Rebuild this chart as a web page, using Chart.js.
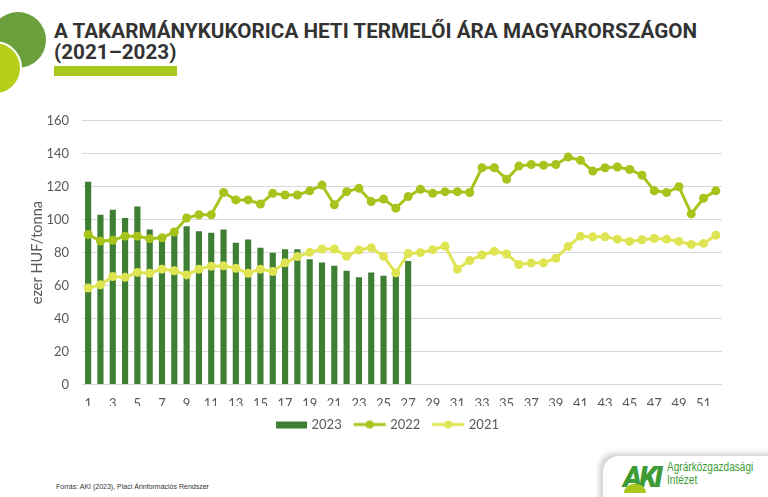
<!DOCTYPE html>
<html>
<head>
<meta charset="utf-8">
<script src="https://cdn.jsdelivr.net/npm/chart.js@4.4.0/dist/chart.umd.min.js"></script>
<style>
  html, body { margin: 0; padding: 0; background: #fff; }
  #page { position: relative; width: 768px; height: 497px; overflow: hidden; background: #fff; }
  .circle { position: absolute; border-radius: 50%; }
  #c1 { left: -10px; top: 12px; width: 56px; height: 56px; background: #6a9f3c; }
  #c2 { left: -32px; top: 41px; width: 50px; height: 50px; background: #b5cf1b; border: 2px solid #fff; }
  #title { position: absolute; left: 54px; top: 21px; font-family: Roboto, "Liberation Sans", sans-serif;
           font-weight: bold; font-size: 21px; line-height: 21px; color: #333; white-space: nowrap;
           transform-origin: 0 0; }
  #underline { position: absolute; left: 54px; top: 66px; width: 123px; height: 10px; background: #a9c81f; }
  #source { position: absolute; left: 56px; top: 483px; font-family: "Liberation Sans Narrow", sans-serif; font-size: 7px; color: #333; }
  #logo { position: absolute; left: 603px; top: 456px; width: 190px; height: 60px; background: #fff; border-top-left-radius: 16px;
          box-shadow: -4px -3px 5px #d4d4d4; }
  #aki { position: absolute; left: 20px; top: 7px; font-family: Roboto, "Liberation Sans", sans-serif; font-weight: 900; font-style: italic;
         font-size: 29px; line-height: 29px; color: #3d9a34; letter-spacing: -3px; }
  #hill { position: absolute; left: 21px; top: 28px; width: 22px; height: 9px; border-radius: 11px 11px 0 0; background: #a8c81e; }
  #akitext { position: absolute; left: 64px; top: 5px; font-family: "Liberation Sans", sans-serif; font-size: 12px; line-height: 13px;
             color: #3d9a34; transform: scaleX(0.84); transform-origin: 0 0; white-space: nowrap; }
  #chart { position: absolute; left: 0; top: 100px; }
</style>
</head>
<body>
<div id="page">
  <div class="circle" id="c1"></div>
  <div class="circle" id="c2"></div>
  <div id="title">A TAKARMÁNYKUKORICA HETI TERMELŐI ÁRA MAGYARORSZÁGON<br>(2021–2023)</div>
  <div id="underline"></div>
  <canvas id="chart" width="768" height="341"></canvas>
  <div id="source">Forrás: AKI (2023), Piaci Árinformációs Rendszer</div>
  <div id="logo">
    <div id="aki">AKI</div>
    <div id="hill"></div>
    <div id="akitext">Agrárközgazdasági<br>Intézet</div>
  </div>
</div>
<script>
/* global Chart */

const weeks = [];
for (let i = 1; i <= 52; i++) weeks.push(String(i));

const price2023 = [123, 103, 106, 101, 108, 94, 91, 92, 96, 93, 92, 94, 86, 88, 83, 80, 82, 82, 76, 74,
  72, 69, 65, 68, 66, 66, 75];
const price2022 = [91, 87, 87.5, 90, 90, 88.5, 89, 92.5, 101, 103, 103, 116.5, 112, 112, 109.5, 116, 115, 115, 117.5, 121,
  109, 117, 119, 111, 112.5, 107, 114, 118.5, 116, 117, 117, 116.5, 131.5, 131.5, 124.5, 132.5, 133.5, 133, 133.5, 138,
  136, 129.5, 131.5, 132, 130.5, 127, 117.5, 116.5, 120, 103.5, 113, 117.5];
const price2021 = [58.5, 60.5, 65.5, 65, 68, 67.5, 70, 69, 66.5, 70, 71.8, 72, 70.5, 67.5, 70, 68.5, 73.8, 77.6, 80.2, 82.2,
  82.2, 77.8, 81.6, 83, 77.8, 67.7, 79.5, 80, 81.8, 84, 70, 75.2, 78.6, 80.8, 79.2, 72.8, 73.7, 73.8, 76.6, 83.8,
  90, 89.6, 89.6, 88.2, 86.8, 87.8, 88.6, 88.2, 86.8, 85, 85.6, 90.6];
const yTicks = [0, 20, 40, 60, 80, 100, 120, 140, 160];

const GREEN_DARK = '#3f7f33';
const GREEN_MID = '#a6c41c';
const YELLOW = '#dfe552';

// cim szelessegre igazitasa (nincs keskeny betutipus)
const title = document.getElementById('title');
title.style.transform = 'scaleX(' + (643 / title.offsetWidth) + ')';

// legend kepek: 40px szeles, a doboz 30px
function legendImage(kind, color) {
  const c = document.createElement('canvas');
  c.width = 40; c.height = 12;
  const g = c.getContext('2d');
  g.fillStyle = color;
  if (kind === 'bar') {
    g.fillRect(6, 3, 31, 7);
  } else {
    g.strokeStyle = color;
    g.lineWidth = 3;
    g.beginPath(); g.moveTo(5, 6); g.lineTo(37, 6); g.stroke();
    g.beginPath(); g.arc(21, 6, 4, 0, Math.PI * 2); g.fill();
  }
  return c;
}

// a legend kicsit jobbra van az eredetin
const shiftLegend = {
  id: 'shiftLegend',
  afterLayout: function(chart) {
    chart.legend.left += 15;
    chart.legend.right += 15;
  }
};

const ctx = document.getElementById('chart').getContext('2d');
const font = { family: 'Lato, "Open Sans", sans-serif', size: 13 };

const chart = new Chart(ctx, {
  type: 'bar',
  data: {
    labels: weeks,
    datasets: [{
      label: '2023',
      data: price2023,
      backgroundColor: GREEN_DARK,
      barPercentage: 0.5,
      categoryPercentage: 1,
      order: 3
    }, {
      type: 'line',
      label: '2022',
      data: price2022,
      borderColor: GREEN_MID,
      backgroundColor: GREEN_MID,
      borderWidth: 3,
      pointRadius: 4.5,
      pointBorderWidth: 0,
      tension: 0,
      order: 2
    }, {
      type: 'line',
      label: '2021',
      data: price2021,
      borderColor: YELLOW,
      backgroundColor: YELLOW,
      borderWidth: 3,
      pointRadius: 4.5,
      pointBorderWidth: 0,
      tension: 0,
      order: 1
    }]
  },
  plugins: [shiftLegend],
  options: {
    responsive: false,
    animation: false,
    layout: { padding: { left: 22, right: 46, top: 10.2, bottom: 0 } },
    plugins: {
      tooltip: { enabled: false },
      legend: {
        position: 'bottom',
        labels: {
          font: font,
          color: '#595959',
          usePointStyle: true,
          pointStyleWidth: 30,
          boxHeight: 12,
          padding: 12,
          generateLabels: function(chart) {
            const kinds = ['bar', 'line', 'line'];
            return chart.data.datasets.map(function(ds, i) {
              return {
                text: ds.label,
                datasetIndex: i,
                fillStyle: ds.backgroundColor,
                strokeStyle: ds.backgroundColor,
                lineWidth: 0,
                fontColor: '#595959',
                pointStyle: legendImage(kinds[i], ds.backgroundColor),
                hidden: false
              };
            });
          }
        }
      }
    },
    scales: {
      x: {
        grid: { display: false, drawTicks: false },
        border: { display: false },
        afterFit: function(scale) { scale.height = 21.5; },
        ticks: {
          font: font,
          color: '#595959',
          autoSkip: false,
          maxRotation: 0,
          padding: 12,
          callback: function(v, i) { return i % 2 === 0 ? weeks[i] : ''; }
        }
      },
      y: {
        min: 0,
        max: 160,
        afterBuildTicks: function(scale) {
          scale.ticks = yTicks.map(function(v) { return { value: v }; });
        },
        afterFit: function(scale) { scale.width = 60; },
        grid: { color: '#d9d9d9', drawTicks: false, lineWidth: 1 },
        border: { display: false },
        ticks: { font: font, color: '#595959', padding: 13 },
        title: {
          display: true,
          text: 'ezer HUF/tonna',
          font: { family: font.family, size: 14.5 },
          color: '#595959',
          padding: { top: 7, bottom: 0 }
        }
      }
    }
  }
});
</script>
</body>
</html>
